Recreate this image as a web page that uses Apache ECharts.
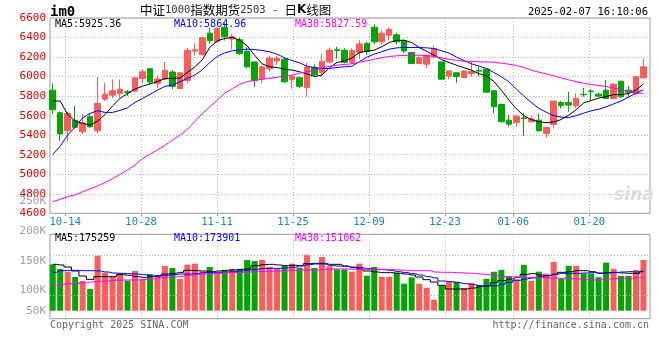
<!DOCTYPE html>
<html><head><meta charset="utf-8">
<script src="https://cdn.jsdelivr.net/npm/echarts@6/dist/echarts.min.js"></script>
<style>html,body{margin:0;padding:0;background:#fff}#c{width:660px;height:360px}</style>
</head><body><div id="c"></div>
<script>
// ---------------- DATA ----------------
const dates = ['10-10','10-11','10-14','10-15','10-16','10-17','10-18','10-21','10-22','10-23','10-24','10-25','10-28','10-29','10-30','10-31',
'11-01','11-04','11-05','11-06','11-07','11-08','11-11','11-12','11-13','11-14','11-15','11-18','11-19','11-20','11-21','11-22','11-25','11-26','11-27','11-28','11-29',
'12-02','12-03','12-04','12-05','12-06','12-09','12-10','12-11','12-12','12-13','12-16','12-17','12-18','12-19','12-20','12-23','12-24','12-25','12-26','12-27','12-30','12-31',
'01-02','01-03','01-06','01-07','01-08','01-09','01-10','01-13','01-14','01-15','01-16','01-17','01-20','01-21','01-22','01-23','01-24','01-27',
'02-05','02-06','02-07'];
const openP  = [5861,5630,5445,5553,5435,5589,5445,5769,5810,5827,5845,5851,5981,6080,5930,5976,6047,5878,5960,6262,
6224,6445,6356,6505,6385,6378,6260,6150,5975,6080,6160,6177,5968,5988,5887,6095,6040,6150,6274,6270,
6146,6245,6340,6505,6356,6424,6428,6365,6247,6134,6127,6202,6151,6005,6039,5989,6030,6063,6076,5855,
5714,5554,5531,5577,5537,5554,5418,5510,5735,5735,5701,5818,5852,5820,5861,5776,5953,5861,5827,5987];
const closeP = [5660,5413,5622,5480,5527,5486,5725,5820,5855,5871,5835,5987,6049,5945,5976,6062,5900,6039,6270,6275,
6397,6368,6492,6407,6410,6236,6100,5957,6100,6190,6188,5947,6000,5900,6095,6020,6158,6270,6268,6146,
6266,6335,6256,6356,6445,6483,6356,6262,6134,6192,6219,6288,5974,6058,6002,6058,6052,6056,5840,5691,
5537,5513,5595,5570,5565,5445,5480,5749,5701,5708,5776,5814,5848,5800,5776,5923,5793,5837,5998,6100];
const lowP   = [5616,5343,5333,5469,5411,5475,5420,5749,5776,5783,5800,5844,5926,5920,5880,5965,5872,5870,5930,6215,
6219,6339,6350,6370,6280,6220,6085,5895,5935,6055,6120,5935,5875,5885,5795,6000,6000,6135,6185,6135,
6130,6180,6220,6330,6328,6373,6328,6243,6127,6127,6088,6185,5970,5970,5936,5985,6000,6005,5840,5623,
5531,5486,5486,5394,5531,5435,5374,5469,5674,5640,5674,5793,5759,5793,5769,5770,5783,5793,5810,5981];
const highP  = [5931,5643,5640,5700,5616,5625,5995,5935,5970,5970,5862,6008,6073,6088,6012,6150,6068,6045,6294,6340,
6407,6499,6500,6550,6435,6400,6300,6152,6115,6210,6210,6200,6020,5998,6140,6125,6235,6300,6305,6290,
6290,6373,6356,6535,6475,6502,6448,6380,6254,6209,6222,6311,6151,6060,6040,6062,6151,6100,6083,5858,
5725,5606,5606,5623,5599,5623,5486,5750,5749,5844,5827,5885,5872,5837,5964,5925,5953,5906,6005,6185];
const ma5  = [5752,5749,5612,5544,5520,5503,5545,5612,5700,5776,5827,5872,5902,5925,5950,5978,5982,5985,6042,6100,
6170,6300,6366,6390,6400,6373,6315,6219,6131,6100,6093,6076,6066,6050,6028,6001,6015,6090,6144,6161,
6190,6247,6260,6271,6305,6349,6370,6372,6349,6298,6260,6219,6175,6144,6117,6090,6066,6030,6008,5950,
5860,5760,5670,5600,5560,5538,5528,5535,5560,5605,5660,5730,5755,5780,5795,5815,5815,5826,5862,5925];
const ma10 = [5203,5288,5401,5486,5578,5623,5650,5633,5633,5654,5681,5735,5776,5817,5861,5899,5913,5947,5981,6015,
6070,6144,6206,6243,6264,6274,6281,6277,6267,6254,6230,6192,6165,6141,6107,6090,6083,6083,6093,6100,
6106,6151,6199,6230,6254,6281,6294,6298,6298,6298,6294,6288,6264,6240,6199,6165,6131,6107,6083,6042,
5998,5947,5872,5800,5735,5675,5635,5600,5585,5580,5600,5625,5650,5665,5690,5720,5750,5790,5830,5865];
const ma30 = [4719,4743,4770,4790,4821,4849,4880,4915,4955,4999,5043,5094,5160,5205,5250,5295,5350,5400,5460,5540,
5620,5690,5760,5830,5875,5920,5950,5960,5974,5981,5994,6005,6015,6035,6049,6066,6088,6105,6117,6124,
6131,6148,6161,6178,6192,6206,6213,6216,6219,6219,6216,6206,6192,6178,6165,6158,6155,6151,6151,6146,
6138,6127,6114,6093,6066,6045,6028,6008,5987,5967,5947,5933,5919,5909,5899,5885,5865,5845,5832,5828];
// volume, thousand lots
const volume = [206.2,185.5,173.6,149.9,132.1,96.5,244.8,169.2,152.9,167.7,133.6,176.6,139.5,163.2,158.8,198.8,189.9,141.0,204.8,209.2,
174.5,194.4,169.2,178.1,185.5,185.5,225.5,221.1,225.5,195.0,185.5,200.3,209.2,191.4,248.5,189.9,238.9,197.0,184.0,184.0,
173.6,209.2,155.8,194.4,151.0,151.0,169.0,120.2,148.0,120.2,102.0,49.0,114.3,129.1,129.1,101.0,124.0,113.5,142.0,173.0,
181.0,151.4,139.5,204.0,133.0,173.6,164.7,217.0,143.0,199.5,199.5,165.5,165.5,149.0,213.6,186.0,155.0,155.0,181.0,225.5];
const volMa5 = [206.2,203.3,194.4,176.6,154.3,139.5,151.4,151.4,151.4,160.3,157.3,151.4,148.4,151.4,154.3,163.2,166.2,170.6,179.5,178.0,
176.6,173.6,176.6,179.5,181.0,184.0,185.5,200.3,204.8,206.2,203.3,200.3,201.8,200.3,209.2,210.7,210.7,206.2,206.2,198.8,
191.4,185.5,176.6,172.1,169.2,169.2,166.2,163.2,158.8,149.9,138.0,127.6,112.8,96.5,96.5,96.5,101.0,106.9,111.3,124.7,
133.6,141.0,148.4,161.7,164.7,158.8,155.8,161.7,170.6,173.6,178.0,178.0,173.6,166.2,169.2,170.6,167.7,166.2,166.2,175.3];
const volMa10 = [170.6,178.0,179.5,179.5,178.0,178.0,176.6,172.1,167.7,166.2,164.7,163.2,160.3,154.3,154.3,157.3,160.3,163.2,163.2,164.7,
169.2,170.6,170.6,172.1,173.6,176.6,181.0,184.0,187.0,188.5,188.5,190.0,192.9,198.8,204.8,207.7,207.7,200.3,198.8,197.3,
194.4,191.4,187.0,184.0,182.5,179.5,173.6,169.2,164.7,158.8,151.4,145.4,132.1,129.1,124.7,120.2,115.8,111.3,109.8,111.3,
117.3,126.2,135.1,141.0,145.4,151.4,155.8,161.7,166.2,166.2,166.2,167.7,169.2,167.7,167.7,169.2,172.1,173.6,172.1,173.9];
const volMa30 = [112.8,117.3,120.2,121.7,123.2,127.6,130.6,132.1,135.1,136.5,136.5,136.5,138.0,141.0,145.4,148.4,149.9,152.9,157.3,161.7,
163.2,164.7,166.2,169.2,170.6,170.6,172.1,173.6,175.1,175.1,176.6,178.0,179.5,181.0,181.0,181.0,182.5,185.5,185.5,185.5,
184.7,184.0,184.0,184.0,184.0,182.5,181.0,179.5,178.0,178.0,178.0,172.1,170.6,170.6,169.2,167.7,166.2,163.2,160.3,155.8,
152.9,151.4,149.9,148.4,148.4,146.9,145.4,145.4,144.0,142.5,141.0,139.5,136.5,139.5,141.0,142.5,144.0,144.0,146.9,151.1];
const dateTicks = ['10-14','10-28','11-11','11-25','12-09','12-23','01-06','01-20'];
const priceMin = 4600, priceMax = 6600, priceStep = 200;
const volTickLabels = ['250K','200K','150K','100K','50K'];
const maLabels = ['MA5:5925.36','MA10:5864.96','MA30:5827.59'];
const volMaLabels = ['MA5:175259','MA10:173901','MA30:151062'];

// ---------------- LAYOUT / STYLE ----------------
const MONO = "'DejaVu Sans Mono','Liberation Mono',monospace";
const UP = '#ff5b5b', DOWN = '#00a600';
const MA_COLORS = ['#000000','#0000ff','#ff00ff'];
const GRIDLINE = {color:'#b4b4b4', type:[1,2], width:1};
const volAxisMin = -35.6, volAxisMax = 339.8;      // thousand lots at panel bottom / top
const volGuideLevels = [247.8, 69.8];             // dotted guides in volume panel
const volLabelY = [200.7, 231, 260.7, 290.3, 310.7];
const maLabelX = [55, 174, 295];

const isTick = (idx, val) => dateTicks.indexOf(val) >= 0;
const chart = echarts.init(document.getElementById('c'), null, {renderer:'canvas', width:660, height:360});

const grids = [
  {left:50, top:18, width:600, height:195.3, show:true, borderColor:'#999', borderWidth:1},
  {left:49, top:18, width:598.2, height:195.3},
  {left:50, top:234.3, width:600, height:84.4, show:true, borderColor:'#999', borderWidth:1},
  {left:49, top:234.3, width:598.2, height:84.4}
];
const hiddenCat = g => ({type:'category', gridIndex:g, data:dates, boundaryGap:true, show:false});
const xAxes = [
  {type:'category', gridIndex:0, data:dates, boundaryGap:false,
   axisLine:{show:false},
   axisTick:{show:true, interval:isTick, length:3, lineStyle:{color:'#999'}},
   axisLabel:{interval:isTick, color:'#1580d0', fontFamily:MONO, fontSize:10.5, margin:3},
   splitLine:{show:true, interval:isTick, lineStyle:GRIDLINE}},
  hiddenCat(1),
  {type:'category', gridIndex:2, data:dates, boundaryGap:false,
   axisLine:{show:false}, axisTick:{show:false}, axisLabel:{show:false},
   splitLine:{show:true, interval:isTick, lineStyle:GRIDLINE}},
  hiddenCat(3)
];
const yAxes = [
  {type:'value', gridIndex:0, min:priceMin, max:priceMax, interval:priceStep,
   axisLine:{show:false}, axisTick:{show:false},
   axisLabel:{color:'#e60000', fontFamily:MONO, fontSize:11, margin:4, padding:[0,0,3,0],
              formatter: v => String(v)},
   splitLine:{show:true, lineStyle:GRIDLINE}},
  {type:'value', gridIndex:1, min:priceMin, max:priceMax, show:false, splitLine:{show:false}},
  {type:'value', gridIndex:2, min:volAxisMin, max:volAxisMax, show:false, splitLine:{show:false}},
  {type:'value', gridIndex:3, min:volAxisMin, max:volAxisMax, show:false, splitLine:{show:false}}
];

const lineS = (name, data, color, xi, yi, step) => ({
  name, type:'line', xAxisIndex:xi, yAxisIndex:yi, data, showSymbol:false, symbol:'none',
  step: step || false, smooth:false, silent:true, animation:false,
  lineStyle:{color, width:1}, z:4
});

const series = [
  {type:'candlestick', xAxisIndex:1, yAxisIndex:1, barWidth:6, animation:false, silent:true,
   data: dates.map((d,i)=>[openP[i], closeP[i], lowP[i], highP[i]]),
   itemStyle:{color:UP, color0:DOWN, borderColor:UP, borderColor0:DOWN, borderWidth:1}, z:3},
  lineS('MA5', ma5, MA_COLORS[0], 1, 1),
  lineS('MA10', ma10, MA_COLORS[1], 1, 1),
  lineS('MA30', ma30, MA_COLORS[2], 1, 1),
  {type:'bar', xAxisIndex:3, yAxisIndex:3, barWidth:6, animation:false, silent:true,
   data: volume.map((v,i)=>({value:v, itemStyle:{color: closeP[i] >= openP[i] ? UP : DOWN}})), z:3},
  lineS('VMA5', volMa5, MA_COLORS[0], 3, 3, 'middle'),
  lineS('VMA10', volMa10, MA_COLORS[1], 3, 3, 'middle'),
  lineS('VMA30', volMa30, MA_COLORS[2], 3, 3, 'middle'),
  {type:'line', xAxisIndex:2, yAxisIndex:2, data:[], silent:true, animation:false,
   markLine:{silent:true, symbol:['none','none'], label:{show:false}, animation:false,
     lineStyle:GRIDLINE, data: volGuideLevels.map(v=>({yAxis:v}))}}
];

const txt = (text, x, y, font, fill, align, extra) => Object.assign({
  type:'text', silent:true, z:10,
  style:{text, x, y, font, fill, align: align||'left', verticalAlign:'middle'}
}, extra||{});

const graphic = [
  txt('im0', 50, 12, 'bold 14px ' + MONO, '#000'),
  {type:'text', silent:true, z:10, style:{
    text:'{c|中证}{d|1000}{c|指数期货}{d|2503}{d| - }{c|日}{k|K}{c|线图}',
    x:140, y:10, verticalAlign:'middle', align:'left',
    rich:{c:{font:'12.5px "Noto Sans CJK SC"', fill:'#000'},
          k:{font:'bold 12px "DejaVu Sans"', fill:'#000'},
          d:{font:'10.5px ' + MONO, fill:'#333'}}}},
  txt('2025-02-07 16:10:06', 648, 12, '10.5px ' + MONO, '#000', 'right'),
  txt(maLabels[0], maLabelX[0], 24, '10px ' + MONO, MA_COLORS[0]),
  txt(maLabels[1], maLabelX[1], 24, '10px ' + MONO, MA_COLORS[1]),
  txt(maLabels[2], maLabelX[2], 24, '10px ' + MONO, MA_COLORS[2]),
  txt(volMaLabels[0], maLabelX[0], 238, '10px ' + MONO, MA_COLORS[0]),
  txt(volMaLabels[1], maLabelX[1], 238, '10px ' + MONO, MA_COLORS[1]),
  txt(volMaLabels[2], maLabelX[2], 238, '10px ' + MONO, MA_COLORS[2]),
  txt('Copyright 2025 SINA.COM', 50, 325, '10px ' + MONO, '#666'),
  txt('http://finance.sina.com.cn', 649, 325, '10px ' + MONO, '#666', 'right'),
  txt('sina', 634, 196, 'italic bold 17px "DejaVu Sans"', '#dcdcdc', 'center', {z:1})
].concat(volTickLabels.map((t,i)=>txt(t, 46, volLabelY[i], '11px ' + MONO, '#a0a0a0', 'right')));

chart.setOption({
  animation:false,
  backgroundColor:'#fff',
  grid:grids, xAxis:xAxes, yAxis:yAxes, series, graphic
});
</script>
</body></html>
